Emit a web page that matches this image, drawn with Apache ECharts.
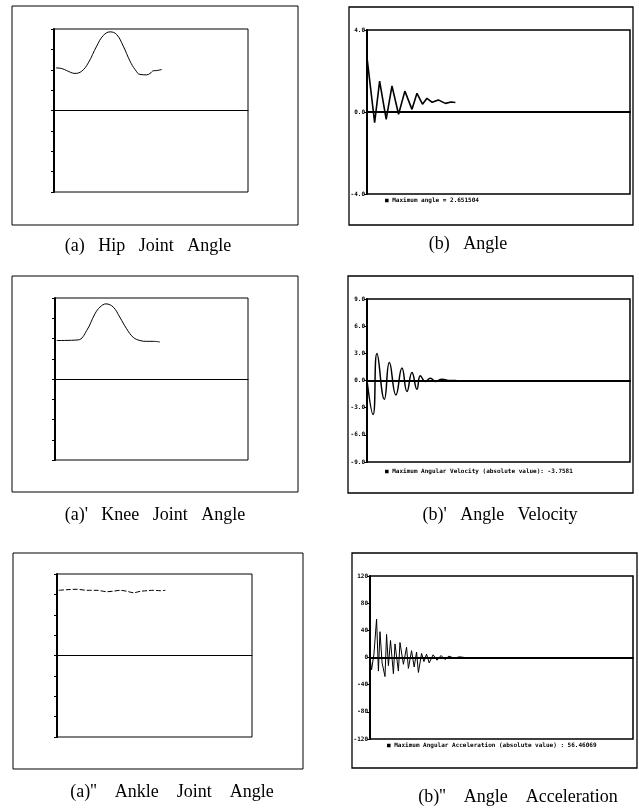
<!DOCTYPE html>
<html><head><meta charset="utf-8">
<script src="https://cdn.jsdelivr.net/npm/echarts@6/dist/echarts.min.js"></script>
<style>html,body{margin:0;padding:0;background:#fff}#c{width:639px;height:809px}</style>
</head><body><div id="c"></div>
<script>
// ---- data ----
const hipX = [1, 4, 6.5, 10.8, 14.3, 17.7, 22, 25.4, 28.9, 32.3, 35.7, 39.2, 41.8, 44.3, 47.8, 49.5, 51.2, 52.9, 55.5];
const hipY = [2.09, 2.06, 1.96, 1.82, 1.93, 2.34, 3.16, 3.68, 3.86, 3.73, 3.16, 2.42, 2.01, 1.77, 1.75, 1.82, 1.95, 1.96, 2.01];
const kneeX = [0.9, 12, 16.4, 20.7, 23.3, 26.4, 30.2, 33.6, 37.1, 40.5, 44, 47.4, 50.9, 54.3];
const kneeY = [1.90, 1.93, 2.39, 3.22, 3.55, 3.71, 3.55, 3.05, 2.48, 2.06, 1.90, 1.86, 1.86, 1.83];
const ankleX = [0.9, 5.1, 10.3, 15.4, 20.5, 25.6, 29.1, 32.5, 35.9, 39.3, 42.7, 46.2, 49.6, 53, 55.6];
const ankleY = [3.20, 3.23, 3.25, 3.20, 3.20, 3.13, 3.16, 3.20, 3.15, 3.08, 3.15, 3.18, 3.20, 3.18, 3.20];
const angleX = [0, 2.9, 4.8, 7.3, 9.5, 12, 14.4, 17.1, 19, 21.1, 22.8, 24.8, 27.1, 29.8, 32, 33.6];
const angleY = [2.65, -0.52, 1.51, -0.36, 1.27, -0.11, 1.02, 0.13, 0.91, 0.38, 0.67, 0.47, 0.59, 0.42, 0.49, 0.46];
const velX = [0, 2.3, 3.8, 6.6, 8.5, 11, 13.3, 15.2, 17.1, 19, 20.3, 22.2, 24.1, 26, 28.5, 31, 34];
const velY = [0, -3.76, 2.97, -2.07, 2.0, -1.59, 1.38, -1.22, 0.89, -0.96, 0.52, -0.11, 0.26, -0.11, 0.15, 0, 0];
const accX = [0, 0.6, 1.5, 2.5, 3.2, 3.8, 4.6, 5.7, 6.3, 7.0, 7.8, 8.9, 9.5, 10.8, 11.4, 12.7, 13.9, 14.6, 15.8, 16.8, 17.7, 18.4, 19.6, 20.5, 21.5, 22.5, 24, 25.5, 27, 28.5, 30, 32, 34, 36];
const accY = [0, -18, 5, 56.5, -20, 38, -8, -28, 34, -12, 25, -24, 20, -20, 22, -10, 15, -16, 10, -14, 8, -22, 6, -6, 5, -8, 4, -4, 3, -3, 2, -1, 1, 0];

const captions = ["(a)   Hip   Joint   Angle", "(b)   Angle", "(a)'   Knee   Joint   Angle", "(b)'   Angle   Velocity", "(a)''    Ankle    Joint    Angle", "(b)''    Angle    Acceleration"];
const legendTexts = ["■ Maximum angle = 2.651504", "■ Maximum Angular Velocity (absolute value): -3.7581", "■ Maximum Angular Acceleration (absolute value) : 56.46069"];
const yRanges = [[-4, 4, 1], [-4, 4, 4], [-4, 4, 1], [-9, 9, 3], [-4, 4, 1], [-120, 120, 40]];
const labelDecimals = [1, 1, 1, 1, 1, 0];

// ---- layout ----
const grids = [
  {left: 54, top: 29, width: 194, height: 163},
  {left: 367, top: 30, width: 263, height: 164},
  {left: 55, top: 298, width: 193, height: 162},
  {left: 367, top: 299, width: 263, height: 163},
  {left: 57, top: 574, width: 195, height: 163},
  {left: 370, top: 576, width: 263, height: 163}
];
const frames = [
  [12, 6, 286, 219], [349, 7, 284, 218],
  [12, 276, 286, 216], [348, 276, 285, 217],
  [13, 553, 290, 216], [352, 553, 285, 215]
];
const capPos = [[148, 246], [468, 244], [155, 515], [500, 515], [172, 792], [518, 797]];
const legPos = [[385, 200], [385, 471], [387, 745]];

const isB = i => i % 2 === 1;
const gridOpt = grids.map((g, i) => Object.assign({show: true, borderColor: '#000', borderWidth: isB(i) ? 1.5 : 1, backgroundColor: 'transparent'}, g));

const xAxes = grids.map((g, i) => ({
  type: 'value', gridIndex: i, min: 0, max: 100,
  axisLine: {onZero: true, lineStyle: {color: '#000', width: isB(i) ? 1.8 : 1}},
  axisTick: {show: false}, axisLabel: {show: false}, splitLine: {show: false}
}));
const yAxes = [];
grids.forEach((g, i) => {
  const r = yRanges[i];
  yAxes.push({
    type: 'value', gridIndex: i, min: r[0], max: r[1], interval: r[2],
    axisLine: {show: true, onZero: false, lineStyle: {color: '#000', width: 2}},
    axisTick: {show: true, length: 3, inside: false, lineStyle: {color: '#000', width: 1}},
    axisLabel: {show: isB(i), fontSize: 6, fontWeight: 'bold', fontFamily: 'DejaVu Sans Mono', color: '#000', margin: 2,
      formatter: v => v.toFixed(labelDecimals[i])},
    splitLine: {show: false}
  });
  yAxes.push({
    type: 'value', gridIndex: i, min: r[0], max: r[1], interval: r[2],
    axisLine: {show: false},
    axisTick: {show: true, length: 3, inside: true, lineStyle: {color: '#000', width: 1}},
    axisLabel: {show: false}, splitLine: {show: false}
  });
});

const pairs = (xs, ys) => xs.map((x, k) => [x, ys[k]]);
const seriesData = [
  [hipX, hipY, 0.4, 1, 'solid'],
  [angleX, angleY, 0, 1.6, 'solid'],
  [kneeX, kneeY, 0.4, 1, 'solid'],
  [velX, velY, 0.5, 1.5, 'solid'],
  [ankleX, ankleY, 0.3, 1, 'dashed'],
  [accX, accY, 0, 1, 'solid']
];
const series = seriesData.map((s, i) => ({
  type: 'line', xAxisIndex: i, yAxisIndex: i * 2, data: pairs(s[0], s[1]),
  smooth: s[2], showSymbol: false, animation: false,
  lineStyle: {color: '#000', width: s[3], type: s[4] === 'dashed' ? [5, 2] : 'solid'}
}));

const graphic = [];
frames.forEach((f, i) => graphic.push({type: 'rect', shape: {x: f[0], y: f[1], width: f[2], height: f[3]},
  style: {fill: 'none', stroke: '#000', lineWidth: isB(i) ? 1.3 : 1}, z: 0}));
captions.forEach((t, i) => graphic.push({type: 'text', x: capPos[i][0], y: capPos[i][1],
  style: {text: t, fill: '#000', font: '18px "Liberation Serif"', textAlign: 'center', textVerticalAlign: 'middle'}}));
legendTexts.forEach((t, i) => graphic.push({type: 'text', x: legPos[i][0], y: legPos[i][1],
  style: {text: t, fill: '#000', font: 'bold 6px "DejaVu Sans Mono"', textAlign: 'left', textVerticalAlign: 'middle'}}));

const chart = echarts.init(document.getElementById('c'), null, {renderer: 'canvas'});
chart.setOption({
  animation: false,
  backgroundColor: '#fff',
  grid: gridOpt, xAxis: xAxes, yAxis: yAxes, series: series, graphic: graphic
});
</script></body></html>
